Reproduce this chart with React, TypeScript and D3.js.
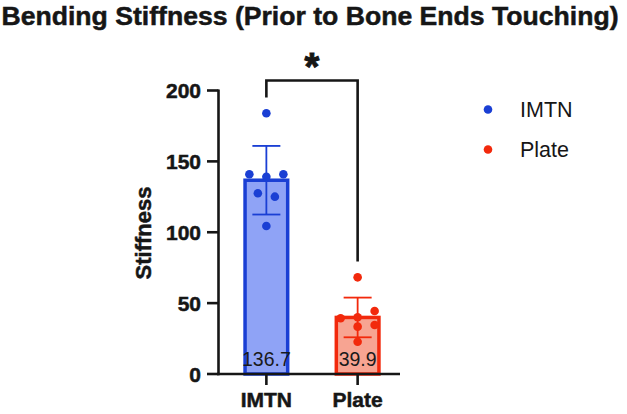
import React from "react";
import * as d3 from "d3";

const categories = ["IMTN", "Plate"];
const means = [136.7, 39.9];
const sds = [24.2, 14.0];
const imtnPoints = [183.9, 140.9, 139.2, 140.9, 127.5, 125.1, 104.4];
const platePoints = [68.2, 44.4, 39.3, 40.0, 33.4, 34.6, 22.8];
const pointOffsets = [0, -1, 0, 1, -0.5, 0.5, 0];
const platePointOffsets = [0, 1, -1, 0, 0, 1, 0];
const yTicks = [0, 50, 100, 150, 200];

const fills = ["#8fa3f6", "#f7a492"];
const strokes = ["#1a3fd4", "#f2290c"];

export default function App() {
  const W = 627, H = 414;
  const y = d3.scaleLinear().domain([0, 200]).range([374, 90.5]);
  const x = d3.scaleBand().domain(categories).range([218, 406]).paddingInner(0.5).paddingOuter(0.28);
  const bw = x.bandwidth();
  const font = "'Liberation Sans', Arial, Helvetica, sans-serif";
  const allPoints = [imtnPoints, platePoints];
  const offs = [pointOffsets, platePointOffsets];
  const cx = (c: string) => (x(c) as number) + bw / 2;
  const ink = "#161616";
  const heavy = { stroke: ink, strokeWidth: 0.5 };
  return (
    <svg width={W} height={H} style={{ position: "absolute", left: 0, top: 0 }} fontFamily={font}>
      <rect width={W} height={H} fill="#fff" />
      <text x={310} y={25} textAnchor="middle" fontSize={26.6} fontWeight="bold" fill={ink} {...heavy}>
        Bending Stiffness (Prior to Bone Ends Touching)
      </text>
      {categories.map((c, i) => {
        const x0 = x(c) as number;
        return (
          <g key={c}>
            <rect x={x0 + 1.5} y={y(means[i])} width={bw - 3} height={y(0) - y(means[i])} fill={fills[i]} stroke={strokes[i]} strokeWidth={3.5} />
            <line x1={cx(c)} x2={cx(c)} y1={y(means[i] + sds[i])} y2={y(means[i] - sds[i])} stroke={strokes[i]} strokeWidth={1.8} />
            <line x1={cx(c) - 14} x2={cx(c) + 14} y1={y(means[i] + sds[i])} y2={y(means[i] + sds[i])} stroke={strokes[i]} strokeWidth={1.8} />
            <line x1={cx(c) - 14} x2={cx(c) + 14} y1={y(means[i] - sds[i])} y2={y(means[i] - sds[i])} stroke={strokes[i]} strokeWidth={1.8} />
            {allPoints[i].map((v, j) => (
              <circle key={j} cx={cx(c) + offs[i][j] * 17} cy={y(v)} r={4.3} fill={strokes[i]} />
            ))}
            <text x={cx(c)} y={366} textAnchor="middle" fontSize={19.5} fill="#1a1a1a">
              {means[i].toFixed(1)}
            </text>
          </g>
        );
      })}
      {/* y axis */}
      <line x1={218.5} x2={218.5} y1={y(200) - 1} y2={y(0) + 1.2} stroke={ink} strokeWidth={2.6} />
      {yTicks.map((t) => (
        <g key={t}>
          <line x1={207} x2={218.5} y1={y(t)} y2={y(t)} stroke={ink} strokeWidth={2.6} />
          <text x={201} y={y(t) + 7.5} textAnchor="end" fontSize={21} fontWeight="bold" fill={ink} {...heavy}>
            {t}
          </text>
        </g>
      ))}
      {/* x axis */}
      <line x1={217.2} x2={400} y1={y(0)} y2={y(0)} stroke={ink} strokeWidth={2.6} />
      {categories.map((c) => (
        <g key={c}>
          <line x1={cx(c)} x2={cx(c)} y1={y(0)} y2={y(0) + 11} stroke={ink} strokeWidth={2.6} />
          <text x={cx(c)} y={407} textAnchor="middle" fontSize={21} fontWeight="bold" fill={ink} {...heavy}>
            {c}
          </text>
        </g>
      ))}
      <text transform={`translate(151,233) rotate(-90)`} textAnchor="middle" fontSize={22} fontWeight="bold" fill={ink} {...heavy}>
        Stiffness
      </text>
      {/* significance bracket */}
      <path
        d={`M${cx("IMTN")},97.5 V80.5 H${cx("Plate")} V261.5`}
        fill="none"
        stroke={ink}
        strokeWidth={2.6}
      />
      <text x={(cx("IMTN") + cx("Plate")) / 2} y={80} textAnchor="middle" fontSize={38} fontWeight="bold" fill={ink} stroke={ink} strokeWidth={1}>
        *
      </text>
      {/* legend */}
      {categories.map((c, i) => (
        <g key={c}>
          <circle cx={488} cy={109.5 + i * 40} r={4.3} fill={strokes[i]} />
          <text x={520} y={117 + i * 40} fontSize={21.5} fill={ink}>
            {c}
          </text>
        </g>
      ))}
    </svg>
  );
}
